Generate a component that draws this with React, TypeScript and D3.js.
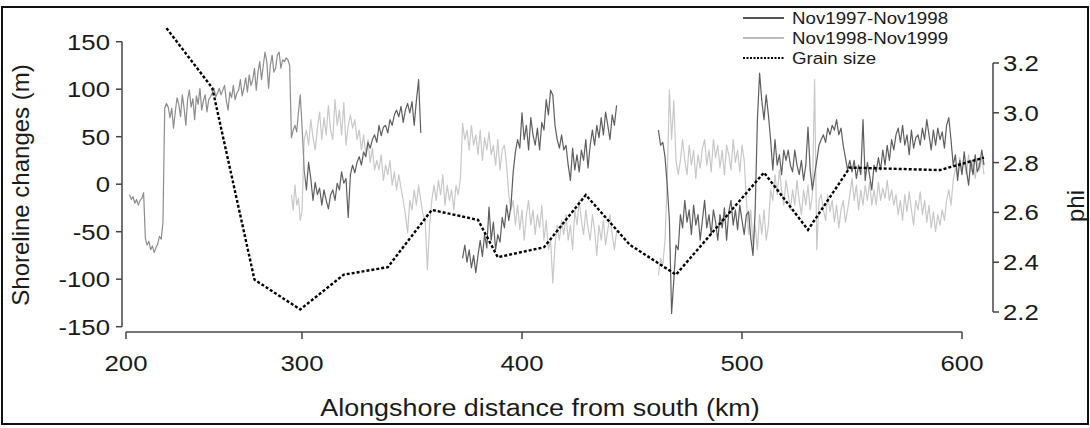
import React from 'react';
import * as d3 from 'd3';

// ---- data ----
const xTicks = [200, 300, 400, 500, 600];
const yTicks = [-150, -100, -50, 0, 50, 100, 150];
const phiTicks = [2.2, 2.4, 2.6, 2.8, 3.0, 3.2];

// Nov1997-Nov1998 shoreline change (m), one value per km starting at the given km
const s1aStart = 202;
const s1a = [-11, -16, -13, -20, -16, -22, -17, -15, -9, -57, -64, -60, -69, -65, -72, -67, -63, -55, -58, -40,
  80, 85, 81, 70, 80, 59, 76, 91, 84, 71, 94, 80, 62, 89, 99, 81, 90, 68, 93, 84,
  101, 78, 88, 94, 76, 89, 92, 96, 101, 92, 96, 101, 94, 99, 104, 88, 78, 97, 91, 104,
  89, 96, 99, 110, 93, 101, 112, 97, 115, 104, 110, 122, 99, 118, 129, 110, 125, 139, 129, 101,
  125, 136, 118, 122, 136, 139, 122, 131, 129, 133, 131, 125, 49, 57, 62, 55, 76, 94, 62, 15,
  -6, 23, 6, -17, 2, -11, -4, -22, -6, -17, -26, -11, -6, -17, 1, -6, 13, 1, 6, -35,
  10, 20, 12, 23, 29, 20, 34, 29, 44, 38, 47, 52, 44, 62, 51, 60, 62, 54, 68, 62,
  73, 78, 71, 82, 65, 78, 85, 75, 87, 62, 88, 110, 54];
const s1bStart = 373;
const s1b = [-78, -64, -82, -69, -88, -75, -93, -75, -59, -76, -53, -67, -24, -59, -40, -69, -53, -61, -35, -46,
  -22, -38, -22, 13, 34, 47, 38, 75, 47, 62, 36, 70, 52, 41, 59, 36, 65, 57, 89, 73,
  99, 94, 62, 47, 38, 52, 36, 41, 20, 4, 38, 15, 31, 13, 36, 25, 47, 17, 41, 57,
  41, 62, 49, 70, 52, 76, 62, 47, 73, 62, 83];
const s1cStart = 462;
const s1c = [57, 41, 44, 29, -1, -38, -136, -101, -64, -69, -32, -46, -17, -40, -27, -53, -22, -43, -32, -59,
  -38, -17, -46, -32, -53, -27, -40, -59, -32, -46, -25, -59, -29, -17, -43, -27, -48, -22, -38, -53,
  -32, -29, -57, -75, -27, 68, 117, 88, 68, 94, 73, 47, 15, 47, 20, 31, 10, 36, 25, 36,
  20, 13, 36, 20, 10, 25, 4, 20, 60, 15, -6, 10, 25, 41, 47, 52, 44, 59, 52, 62,
  57, 68, 52, 59, 41, 28, 15, 25, 13, 25, 6, 20, 10, 68, 4, 23, 9, -6, 20, 13,
  28, 15, 36, 20, 41, 25, 47, 36, 52, 59, 44, 62, 41, 52, 31, 57, 38, 49, 52, 41,
  59, 47, 68, 52, 36, 57, 41, 59, 47, 55, 38, 62, 70, 47, 20, 31, 4, 25, 10, 34,
  15, -1, 25, 10, 31, 13, 20, 36, 20];

// Nov1998-Nov1999 shoreline change (m)
const s2aStart = 294;
const s2a = [-11, -27, -1, -22, -15, -38, -29, 47, 57, 41, 68, 49, 36, 59, 76, 47, 70, 52, 83, 57,
  47, 89, 62, 78, 52, 86, 41, 62, 73, 59, 68, 47, 57, 36, 52, 31, 47, 23, 38, 15,
  25, 15, 31, 4, 20, 10, 25, -1, 13, -6, 10, -4, -17, -32, -51, -17, -27, -6, -22, -1,
  -17, -32, -38, -90, -43, -17, -1, -17, 4, -11, 10, -22, -1, -17, -6, -27, -1, -11, 6, 64,
  47, 57, 36, 62, 41, 52, 31, 57, 25, 49, 36, 55, 31, 41, 20, 47, 15, 36, 41, 20,
  -11, -27, -17, -43, -22, -48, -27, -59, -32, -17, -43, -27, -53, -32, -46, -22, -59, -38, -69, -59,
  -104, -64, -43, -59, -38, -53, -32, -59, -43, -69, -27, -43, -17, -38, -53, -27, -46, -59, -32, -48,
  -75, -43, -59, -38, -64, -48, -32, -53, -69, -50];
const s2bStart = 462;
const s2b = [-96, -78, -85, -59, 4, 99, 47, 88, 25, 10, 25, 47, 25, 10, 41, 20, 36, 6, 31, 17,
  38, 47, 20, 36, 13, 47, 28, 41, 17, 36, 10, 41, 31, 15, 47, 23, 36, 13, 41, 25,
  -17, -53, -27, -64, -43, -69, -32, -53, -27, -59, -43, -6, -17, 10, -11, 15, -6, -22, 4, -11,
  -27, -6, -22, 4, -17, -32, -6, -22, -1, -27, -11, 110, -69, -17, -11, -27, -38, -11, -29, -17,
  -40, -22, -46, -27, -17, -40, -27, -11, 6, -17, -1, -27, -6, -22, -1, -17, 2, -22, -6, -22,
  2, -17, -4, -15, 4, -17, -6, -22, -11, -32, -17, -38, -11, -29, -8, -27, -43, -17, -27, -8,
  -32, -17, -40, -22, -46, -29, -50, -32, -43, -27, -38, -17, -6, -22, 4, 17, 10, 28, 15, 25,
  10, 31, 13, 23, 6, 25, 15, 28, 10];

// Grain size (phi)
const grainKm = [223, 249, 273, 299, 319, 339, 359, 380, 389, 410, 429, 449, 470, 510, 530, 549, 590, 610];
const grainPhi = [3.34, 3.10, 2.33, 2.21, 2.35, 2.38, 2.61, 2.57, 2.42, 2.46, 2.67, 2.47, 2.35, 2.76, 2.53, 2.78, 2.77, 2.82];

const legendLabels = ['Nov1997-Nov1998', 'Nov1998-Nov1999', 'Grain size'];

// ---- styles ----
const FONT = '"Liberation Sans", Arial, Helvetica, sans-serif';
const SX = 1.17;
const C1 = '#5e5e5e';
const C2 = '#c8c8c8';
const AXIS = '#444';

type P = [number, number];
const seg = (start: number, vals: number[]): P[] => vals.map((v, i) => [start + i, v]);

function T({ x, y, children, size, anchor = 'start', rotate = 0, sx = SX }: any) {
  const tr = rotate ? `translate(${x},${y}) rotate(${rotate}) scale(${sx},1)` : `translate(${x},${y}) scale(${sx},1)`;
  return (
    <text transform={tr} textAnchor={anchor} fontSize={size} fontFamily={FONT} fill="#1a1a1a">
      {children}
    </text>
  );
}

export default function App() {
  const x = d3.scaleLinear().domain([200, 300, 600]).range([126, 302, 962]);
  const y = d3.scaleLinear().domain([-150, 150]).range([326.7, 41.7]);
  const yPhi = d3.scaleLinear().domain([2.2, 3.2]).range([312, 63]);
  const line = d3.line<P>().x(d => x(d[0])).y(d => y(d[1]));
  const grainLine = d3.line<P>().x(d => x(d[0])).y(d => yPhi(d[1]));

  const series1 = [seg(s1aStart, s1a), seg(s1bStart, s1b), seg(s1cStart, s1c)];
  const series2 = [seg(s2aStart, s2a), seg(s2bStart, s2b)];
  const grain: P[] = grainKm.map((k, i) => [k, grainPhi[i]]);

  const axisX = 122;
  const axisY = 332;
  const rAxisX = 993;
  const fadeEnd = x(301);

  return (
    <svg width={1090} height={428} style={{ position: 'absolute', left: 0, top: 0, background: '#fff' }}>
      <defs>
        <linearGradient id="s1grad" gradientUnits="userSpaceOnUse" x1={0} x2={1090} y1={0} y2={0}>
          <stop offset={0} stopColor="#8c8c8c" />
          <stop offset={fadeEnd / 1090} stopColor="#8c8c8c" />
          <stop offset={(fadeEnd + 2) / 1090} stopColor={C1} />
          <stop offset={1} stopColor={C1} />
        </linearGradient>
      </defs>
      <rect x={0} y={0} width={1090} height={428} fill="#fff" />
      <rect x={2} y={7} width={1086} height={417} fill="none" stroke="#111" strokeWidth={2} />

      {/* series */}
      {series2.map((s, i) => (
        <path key={'s2' + i} d={line(s) || ''} fill="none" stroke={C2} strokeWidth={1.2} strokeLinejoin="round" />
      ))}
      {series1.map((s, i) => (
        <path key={'s1' + i} d={line(s) || ''} fill="none" stroke={i === 0 ? 'url(#s1grad)' : C1} strokeWidth={1.2} strokeLinejoin="round" />
      ))}
      <path d={grainLine(grain) || ''} fill="none" stroke="#000" strokeWidth={2.4} strokeDasharray="3 2" />

      {/* left axis */}
      <line x1={axisX} x2={axisX} y1={y(-150)} y2={y(150)} stroke={AXIS} strokeWidth={1.5} />
      {yTicks.map(t => (
        <g key={'yt' + t}>
          <line x1={axisX - 6} x2={axisX} y1={y(t)} y2={y(t)} stroke={AXIS} strokeWidth={1.5} />
          <T x={110} y={y(t) + 8} size={22} anchor="end">{String(t)}</T>
        </g>
      ))}
      <T x={29} y={185} size={24} anchor="middle" rotate={-90} sx={1}>Shoreline changes (m)</T>

      {/* bottom axis */}
      <line x1={x(200)} x2={x(600)} y1={axisY} y2={axisY} stroke={AXIS} strokeWidth={1.5} />
      {xTicks.map(t => (
        <g key={'xt' + t}>
          <line x1={x(t)} x2={x(t)} y1={axisY} y2={axisY + 7} stroke={AXIS} strokeWidth={1.5} />
          <T x={x(t)} y={371} size={22} anchor="middle">{String(t)}</T>
        </g>
      ))}
      <T x={540} y={416} size={23} anchor="middle">Alongshore distance from south (km)</T>

      {/* right axis */}
      <line x1={rAxisX} x2={rAxisX} y1={yPhi(2.2)} y2={yPhi(3.2)} stroke={AXIS} strokeWidth={1.5} />
      {phiTicks.map(t => (
        <g key={'pt' + t}>
          <line x1={rAxisX} x2={rAxisX + 6} y1={yPhi(t)} y2={yPhi(t)} stroke={AXIS} strokeWidth={1.5} />
          <T x={1003} y={yPhi(t) + 8} size={22}>{t.toFixed(1)}</T>
        </g>
      ))}
      <T x={1084} y={206} size={24} anchor="middle" rotate={-90} sx={1}>phi</T>

      {/* legend */}
      <line x1={743} x2={784} y1={18} y2={18} stroke="#555" strokeWidth={2} />
      <line x1={743} x2={784} y1={38} y2={38} stroke="#bbb" strokeWidth={2} />
      <line x1={743} x2={784} y1={58} y2={58} stroke="#000" strokeWidth={1.8} strokeDasharray="2 1.5" />
      {legendLabels.map((l, i) => (
        <T key={l} x={792} y={18 + i * 20 + 6} size={16}>{l}</T>
      ))}
    </svg>
  );
}
